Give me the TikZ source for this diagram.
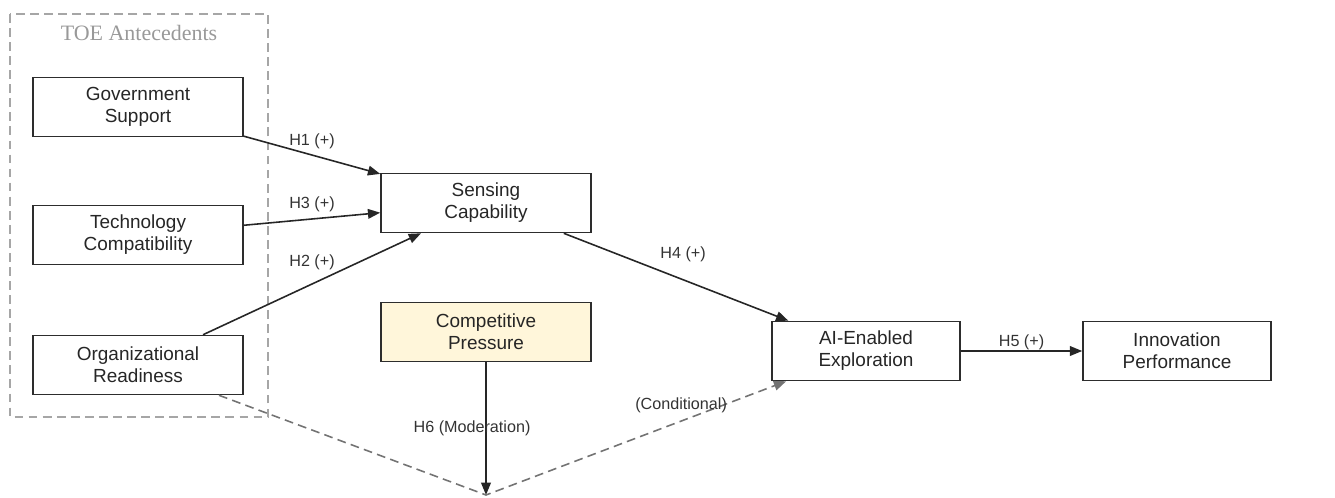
\documentclass[tikz,border=0pt]{standalone}
\usepackage{fontspec}
\setmainfont{Liberation Sans}
\newfontfamily\toefont{Liberation Serif}
\usetikzlibrary{calc,arrows.meta}
\definecolor{cream}{RGB}{255,246,218}
\definecolor{boxline}{RGB}{45,45,45}

\tikzset{
  box/.style={draw=boxline, line width=0.9pt, minimum width=4.2cm, minimum height=1.18cm,
    align=center, text=black!85, font=\fontsize{10.8}{12.6}\selectfont},
  smallbox/.style={box, minimum width=3.76cm},
  arr/.style={draw=black!85, line width=0.9pt, -{Triangle[length=7pt,width=5.5pt]}},
  dasharr/.style={draw=black!55, line width=0.9pt, dash pattern=on 5pt off 3pt,
    -{Triangle[length=7pt,width=5.5pt]}},
  lab/.style={text=black!80, font=\fontsize{9.2}{11}\selectfont}
}

\begin{document}
\begin{tikzpicture}[x=0.02cm, y=-0.02cm]
\useasboundingbox (0,0) rectangle (1335,497);

\draw [black!35, line width=0.8pt, dash pattern=on 5pt off 3pt] (10,14) rectangle (268,417);
\node [text=black!40, font=\toefont\fontsize{12.5}{15}\selectfont] (toe) at (139,33) {TOE Antecedents};

\node [box] (gov) at (138,107) {Government\\Support};
\node [box] (tech) at (138,235) {Technology\\Compatibility};
\node [box] (org) at (138,365) {Organizational\\Readiness};
\node [box] (sens) at (486,203) {Sensing\\Capability};
\node [box, fill=cream] (comp) at (486,332) {Competitive\\Pressure};
\node [smallbox] (ai) at (866,351) {AI-Enabled\\Exploration};
\node [smallbox] (inno) at (1177,351) {Innovation\\Performance};
\coordinate (v) at (486,495);

\draw [arr] (gov) -- (sens) node [lab, midway, above] {H1 (+)};
\draw [arr] (tech) -- (sens) node [lab, midway, above] {H3 (+)};
\draw [arr] (org) -- (sens) node [lab, midway, above=4pt] {H2 (+)};
\draw [arr] (sens) -- (ai) node [lab, midway, above=5pt, xshift=4pt] {H4 (+)};
\draw [arr] (ai) -- (inno) node [lab, midway, above=-3pt] {H5 (+)};
\draw [arr] (comp) -- (v) node [lab, midway, xshift=-14pt*0.567] {H6 (Moderation)};

\draw [dasharr] (org) -- (v) -- (ai) node [lab, pos=0.65, above=1pt] {(Conditional)};
\end{tikzpicture}
\end{document}
